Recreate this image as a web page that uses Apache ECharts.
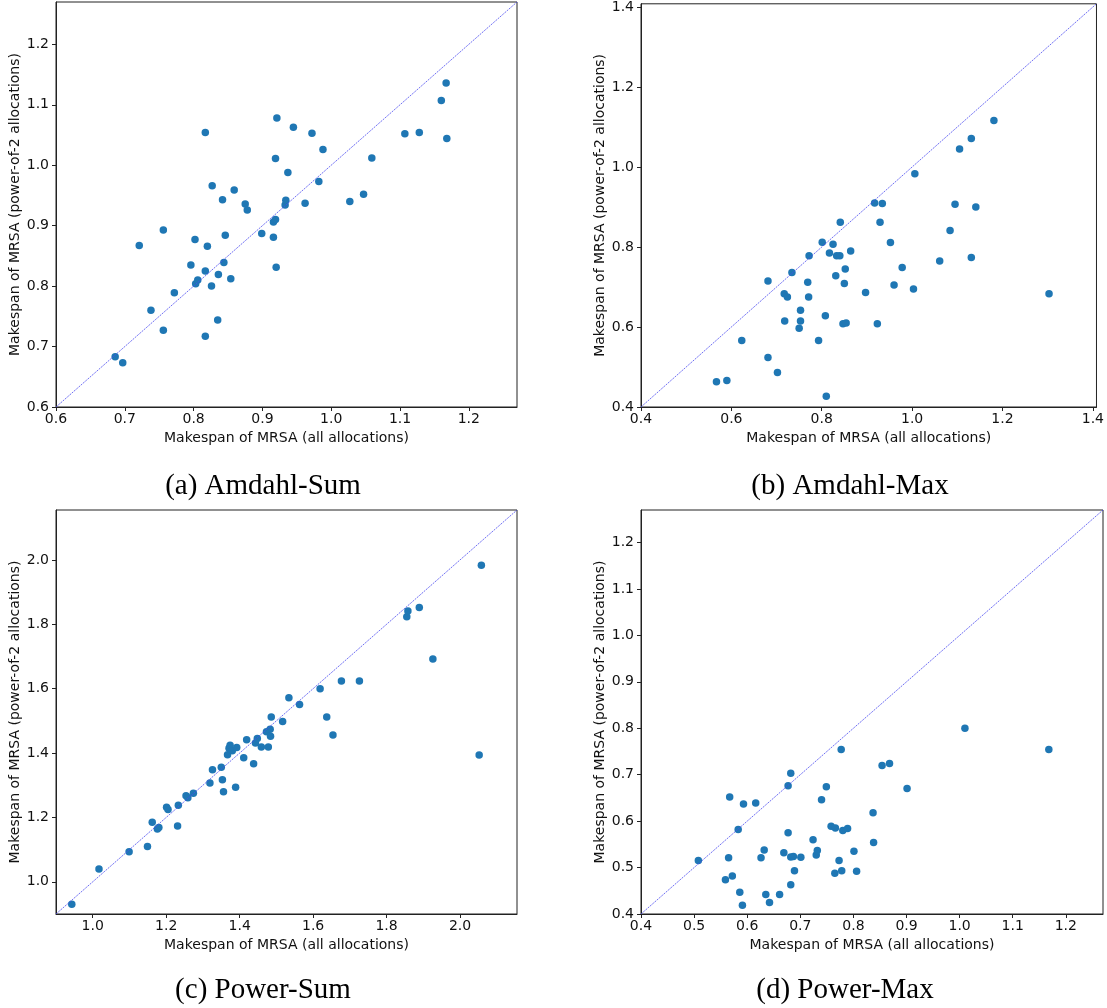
<!DOCTYPE html>
<html><head><meta charset="utf-8">
<script src="https://cdn.jsdelivr.net/npm/echarts@6/dist/echarts.min.js"></script>
<style>html,body{margin:0;padding:0;background:#fff}#c{width:1107px;height:1008px}</style>
</head><body><div id="c"></div>
<script>
// ---------- DATA ----------
// (a) Amdahl-Sum
const amdahlSumX = [0.686,0.697,0.721,0.738,0.756,0.756,0.772,0.796,0.802,0.803,0.806,0.817,0.817,0.817,0.820,0.826,0.827,0.835,0.836,0.842,0.844,0.846,0.854,0.859,0.875,0.878,0.899,0.916,0.916,0.919,0.919,0.920,0.921,0.933,0.934,0.937,0.945,0.962,0.972,0.982,0.988,1.027,1.047,1.059,1.107,1.128,1.160,1.167,1.168];
const amdahlSumY = [0.683,0.673,0.867,0.760,0.893,0.727,0.789,0.835,0.877,0.804,0.810,1.054,0.825,0.717,0.866,0.800,0.966,0.744,0.819,0.943,0.839,0.884,0.812,0.959,0.936,0.926,0.887,0.906,0.881,0.910,1.011,0.831,1.078,0.934,0.942,0.988,1.063,0.937,1.053,0.973,1.026,0.940,0.952,1.012,1.052,1.054,1.107,1.136,1.044];
// (b) Amdahl-Max
const amdahlMaxX = [0.567,0.590,0.623,0.681,0.681,0.702,0.717,0.724,0.718,0.734,0.750,0.753,0.753,0.769,0.771,0.772,0.793,0.801,0.808,0.810,0.817,0.825,0.831,0.833,0.840,0.841,0.847,0.850,0.852,0.854,0.864,0.897,0.917,0.923,0.929,0.934,0.952,0.960,0.978,1.003,1.006,1.061,1.084,1.095,1.105,1.131,1.131,1.141,1.181,1.303];
const amdahlMaxY = [0.463,0.466,0.566,0.524,0.715,0.486,0.683,0.675,0.615,0.736,0.597,0.642,0.615,0.712,0.675,0.778,0.566,0.812,0.628,0.427,0.785,0.807,0.728,0.778,0.778,0.862,0.608,0.709,0.745,0.610,0.790,0.686,0.910,0.608,0.862,0.909,0.811,0.705,0.749,0.695,0.983,0.765,0.841,0.907,1.045,0.774,1.071,0.900,1.116,0.683];
// (c) Power-Sum
const powerSumX = [0.943,1.017,1.099,1.149,1.162,1.176,1.180,1.201,1.205,1.231,1.233,1.254,1.259,1.274,1.319,1.326,1.350,1.353,1.356,1.367,1.371,1.374,1.380,1.389,1.392,1.411,1.419,1.438,1.443,1.448,1.459,1.473,1.478,1.483,1.484,1.486,1.517,1.534,1.563,1.619,1.637,1.654,1.677,1.726,1.855,1.858,1.889,1.926,2.052,2.058];
const powerSumY = [0.930,1.040,1.093,1.110,1.185,1.164,1.169,1.232,1.225,1.173,1.238,1.267,1.261,1.275,1.307,1.348,1.356,1.317,1.280,1.395,1.415,1.424,1.407,1.294,1.417,1.385,1.441,1.367,1.431,1.445,1.419,1.466,1.419,1.474,1.452,1.512,1.498,1.572,1.551,1.600,1.512,1.456,1.624,1.624,1.823,1.841,1.852,1.692,1.394,1.983];
// (d) Power-Max
const powerMaxX = [0.508,0.559,0.565,0.567,0.572,0.583,0.586,0.591,0.593,0.616,0.626,0.632,0.635,0.642,0.661,0.669,0.677,0.677,0.682,0.682,0.682,0.687,0.689,0.701,0.724,0.730,0.732,0.740,0.749,0.758,0.765,0.766,0.773,0.777,0.778,0.780,0.789,0.801,0.806,0.837,0.838,0.854,0.868,0.901,1.010,1.168];
const powerMaxY = [0.515,0.474,0.521,0.652,0.482,0.582,0.447,0.419,0.637,0.639,0.521,0.538,0.442,0.425,0.442,0.532,0.575,0.676,0.523,0.463,0.703,0.524,0.493,0.522,0.560,0.527,0.537,0.646,0.674,0.589,0.488,0.585,0.515,0.754,0.493,0.580,0.584,0.535,0.492,0.618,0.554,0.720,0.724,0.670,0.800,0.754];

// axis limits and tick labels
const limsA = [0.6, 1.27];
const limsB = [0.4, 1.408];
const limsC = [0.9, 2.155];
const limsD = [0.4, 1.27];
const ticksA = [0.6, 0.7, 0.8, 0.9, 1.0, 1.1, 1.2];
const ticksB = [0.4, 0.6, 0.8, 1.0, 1.2, 1.4];
const ticksC = [1.0, 1.2, 1.4, 1.6, 1.8, 2.0];
const ticksD = [0.4, 0.5, 0.6, 0.7, 0.8, 0.9, 1.0, 1.1, 1.2];
const captions = ['(a) Amdahl-Sum', '(b) Amdahl-Max', '(c) Power-Sum', '(d) Power-Max'];
const xTitle = 'Makespan of MRSA (all allocations)';
const yTitle = 'Makespan of MRSA (power-of-2 allocations)';

// ---------- LAYOUT ----------
const panels = [
  {x: amdahlSumX, y: amdahlSumY, lims: limsA, ticks: ticksA, grid: {left: 56, top: 2, width: 461, height: 405}, cap: [263, 486]},
  {x: amdahlMaxX, y: amdahlMaxY, lims: limsB, ticks: ticksB, grid: {left: 641, top: 2, width: 461, height: 405}, cap: [850, 486]},
  {x: powerSumX, y: powerSumY, lims: limsC, ticks: ticksC, grid: {left: 56, top: 510, width: 461, height: 404}, cap: [263, 990]},
  {x: powerMaxX, y: powerMaxY, lims: limsD, ticks: ticksD, grid: {left: 641, top: 510, width: 462, height: 404}, cap: [845, 990]}
];

const FONT = 'DejaVu Sans';
const FS = 14;
const axisCol = '#222';
const grids = [], xAxes = [], yAxes = [], series = [], graphics = [];
const fmt = v => Number(v).toFixed(1);

panels.forEach((p, i) => {
  grids.push(Object.assign({show: true, borderColor: axisCol, borderWidth: 1, backgroundColor: 'transparent', containLabel: false}, p.grid));
  const mk = (pos, name, gap, margin) => ({
    type: 'value', gridIndex: i, min: p.lims[0], max: p.lims[1], position: pos,
    axisLine: {show: true, onZero: false, lineStyle: {color: axisCol, width: 1}},
    axisTick: {show: true, inside: false, length: 4, customValues: p.ticks, lineStyle: {color: axisCol, width: 1}},
    axisLabel: {customValues: p.ticks, formatter: fmt, fontFamily: FONT, fontSize: FS, color: '#111', margin: margin},
    splitLine: {show: false},
    name: name, nameLocation: 'middle', nameGap: gap,
    nameTextStyle: {fontFamily: FONT, fontSize: FS, color: '#111'}
  });
  xAxes.push(mk('bottom', xTitle, 24, 5));
  yAxes.push(mk('left', yTitle, 26, 7));

  series.push({
    type: 'scatter', xAxisIndex: i, yAxisIndex: i,
    data: p.x.map((v, k) => [v, p.y[k]]),
    symbolSize: 7.5, itemStyle: {color: '#1f77b4', opacity: 1},
    emphasis: {disabled: true}, z: 2
  });
  series.push({
    type: 'line', xAxisIndex: i, yAxisIndex: i,
    data: [[p.lims[0], p.lims[0]], [p.lims[1], p.lims[1]]],
    symbol: 'none', lineStyle: {color: '#4a4af0', width: 0.8, type: [2, 1]},
    emphasis: {disabled: true}, z: 3, silent: true
  });
  graphics.push({
    type: 'text', x: p.cap[0], y: p.cap[1],
    style: {text: captions[i], fontFamily: 'Liberation Serif', fontSize: 29, fill: '#000', align: 'center', verticalAlign: 'middle'}
  });
});

const chart = echarts.init(document.getElementById('c'), null, {renderer: 'canvas'});
chart.setOption({
  animation: false,
  backgroundColor: '#fff',
  grid: grids, xAxis: xAxes, yAxis: yAxes, series: series,
  graphic: graphics
});
</script></body></html>
